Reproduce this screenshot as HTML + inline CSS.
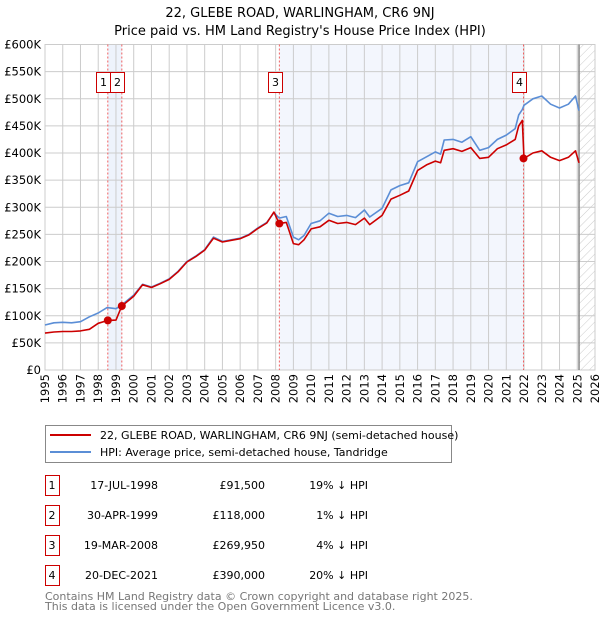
<!DOCTYPE html>
<html><head><meta charset="utf-8"><style>
body{margin:0;background:#fff;font-family:"DejaVu Sans","Liberation Sans",sans-serif;}
svg text{font-family:"DejaVu Sans","Liberation Sans",sans-serif;}
</style></head><body>
<svg id="c" width="600" height="620" xmlns="http://www.w3.org/2000/svg">
<defs><pattern id="hatch" width="6" height="6" patternUnits="userSpaceOnUse" patternTransform="rotate(45)"><line x1="0" y1="0" x2="0" y2="6" stroke="#ccc" stroke-width="1"/></pattern></defs>
<text x="300" y="17" text-anchor="middle" font-size="13">22, GLEBE ROAD, WARLINGHAM, CR6 9NJ</text>
<text x="300" y="35" text-anchor="middle" font-size="13">Price paid vs. HM Land Registry's House Price Index (HPI)</text>
<g id="plot"></g>
<g>
<rect x="45.5" y="425.5" width="406" height="37" fill="#fff" stroke="#888"/>
<line x1="50" y1="435" x2="91" y2="435" stroke="#cc0000" stroke-width="2"/>
<text x="100" y="439" font-size="11">22, GLEBE ROAD, WARLINGHAM, CR6 9NJ (semi-detached house)</text>
<line x1="50" y1="452" x2="91" y2="452" stroke="#5b8ed6" stroke-width="2"/>
<text x="100" y="456" font-size="11">HPI: Average price, semi-detached house, Tandridge</text>
</g>
<g id="table" font-size="11"></g>
<text x="45" y="600" font-size="11" fill="#777">Contains HM Land Registry data © Crown copyright and database right 2025.</text>
<text x="45" y="610" font-size="11" fill="#777">This data is licensed under the Open Government Licence v3.0.</text>
</svg>
<script>
const years=[1995,1995.5,1996,1996.5,1997,1997.5,1998,1998.5,1999,1999.33,1999.7,2000,2000.5,2001,2001.5,2002,2002.5,2003,2003.5,2004,2004.5,2005,2005.5,2006,2006.5,2007,2007.5,2007.9,2008.2,2008.6,2009,2009.3,2009.6,2010,2010.5,2011,2011.5,2012,2012.5,2013,2013.3,2014,2014.5,2015,2015.5,2016,2016.5,2017,2017.3,2017.5,2018,2018.5,2019,2019.5,2020,2020.5,2021,2021.5,2021.7,2021.9,2022,2022.5,2023,2023.5,2024,2024.5,2024.9,2025.1];
const hpiValues=[83,87,88,87,89,98,105,115,113,120,130,138,158,153,160,168,182,200,210,222,245,237,240,243,250,262,272,290,280,283,245,240,248,270,275,289,283,285,281,295,282,298,332,340,345,384,393,402,398,424,425,420,430,405,410,425,433,445,470,480,488,500,505,490,483,490,505,478];
const priceValues=[68,70,71,71,72,75,86,91,92,118,128,136,157,152,159,167,181,199,209,221,243,236,239,242,249,261,271,291,270,272,233,231,240,260,264,276,270,272,268,280,268,285,315,322,330,368,378,385,382,405,408,403,410,390,392,408,415,425,450,460,390,400,404,392,386,392,404,382];
const saleYears=[1998.54,1999.33,2008.21,2021.97];
const salePrices=[91.5,118,269.95,390];
const saleLabels=["1","2","3","4"];
const saleDates=["17-JUL-1998","30-APR-1999","19-MAR-2008","20-DEC-2021"];
const salePriceText=["£91,500","£118,000","£269,950","£390,000"];
const salePct=["19% ↓ HPI","1% ↓ HPI","4% ↓ HPI","20% ↓ HPI"];
const yTicks=[0,50,100,150,200,250,300,350,400,450,500,550,600];
const yTickLabels=["£0","£50K","£100K","£150K","£200K","£250K","£300K","£350K","£400K","£450K","£500K","£550K","£600K"];
const xTicks=[1995,1996,1997,1998,1999,2000,2001,2002,2003,2004,2005,2006,2007,2008,2009,2010,2011,2012,2013,2014,2015,2016,2017,2018,2019,2020,2021,2022,2023,2024,2025,2026];
const X0=45,X1=595,Y0=370,Y1=44.5,dataEnd=2025.1;
const xs=v=>X0+(v-1995)/(2026-1995)*(X1-X0);
const ys=v=>Y0-v/600*(Y0-Y1);
const NS="http://www.w3.org/2000/svg";
const plot=document.getElementById('plot');
function mk(tag,attrs,parent){const e=document.createElementNS(NS,tag);for(const k in attrs)e.setAttribute(k,attrs[k]);(parent||plot).appendChild(e);return e;}
let r=mk('rect',{x:xs(saleYears[0]),y:Y1,width:xs(saleYears[1])-xs(saleYears[0]),height:Y0-Y1,fill:'#eef3fc'});


r=mk('rect',{x:xs(saleYears[2]),y:Y1,width:xs(saleYears[3])-xs(saleYears[2]),height:Y0-Y1,fill:'#f3f6fd'});


r=mk('rect',{x:xs(dataEnd),y:Y1,width:X1-xs(dataEnd),height:Y0-Y1,fill:'url(#hatch)'});


yTicks.forEach((t,i)=>{
 const l=mk('line',{x1:X0,x2:X1,y1:ys(t),y2:ys(t),stroke:'#ccc'});
 
 
 const tx=mk('text',{x:X0-4,y:ys(t)+4,'text-anchor':'end','font-size':'11.5'});
 tx.textContent=yTickLabels[i];
 
 
});
xTicks.forEach(t=>{
 const l=mk('line',{x1:xs(t),x2:xs(t),y1:Y1,y2:Y0,stroke:'#ccc'});
 
 
 const tx=mk('text',{x:0,y:0,'text-anchor':'end','font-size':'11.5',transform:`translate(${xs(t)+4},374) rotate(-90)`});
 tx.textContent=t;
 
 
});
let fr=mk('rect',{x:X0,y:Y1,width:X1-X0,height:Y0-Y1,fill:'none',stroke:'#ccc'});


let dl=mk('line',{x1:xs(dataEnd),x2:xs(dataEnd),y1:Y1,y2:Y0,stroke:'#888','stroke-width':1.5});


saleYears.forEach((s,i)=>{
 const l=mk('line',{x1:xs(s),x2:xs(s),y1:Y1,y2:Y0,stroke:'#f06060','stroke-dasharray':'2,2'});
 
 
});
function path(vals,color,name){
 const d=years.map((y,i)=>(i?'L':'M')+xs(y).toFixed(1)+','+ys(vals[i]).toFixed(1)).join('');
 const p=mk('path',{d:d,fill:'none',stroke:color,'stroke-width':1.6,'stroke-linejoin':'round'});
 
 
}
path(hpiValues,'#5b8ed6','hpi-line');
path(priceValues,'#cc0000','price-line');
saleYears.forEach((s,i)=>{
 const c=mk('circle',{cx:xs(s),cy:ys(salePrices[i]),r:4,fill:'#cc0000'});
 
 
 const bx=Math.round(xs(s)-11.5)+0.5;
 const b=mk('rect',{x:bx,y:72.5,width:14,height:20,fill:'#fff',stroke:'#cc0000'});
 
 
 const t=mk('text',{x:bx+7,y:86,'text-anchor':'middle','font-size':'11'});
 t.textContent=saleLabels[i];
 
 
});
const tb=document.getElementById('table');
saleLabels.forEach((lab,i)=>{
 const y=475+30*i;
 const b=mk('rect',{x:45.5,y:y+0.5,width:14,height:20,fill:'#fff',stroke:'#cc0000'},tb);
 
 
 const vals=[[52,'middle',lab],[158,'end',saleDates[i]],[265,'end',salePriceText[i]],[368,'end',salePct[i]]];
 const nm=['table-row-number','table-date','table-price','table-hpi-diff'];
 vals.forEach((v,j)=>{
  const t=mk('text',{x:v[0],y:y+14,'text-anchor':v[1]},tb);
  t.textContent=v[2];
  
  
 });
});
</script>
</body></html>
